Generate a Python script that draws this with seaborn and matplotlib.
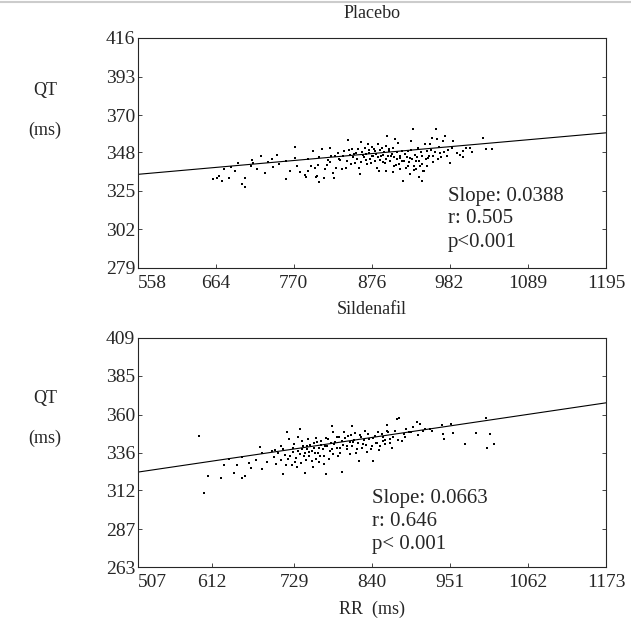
import matplotlib
matplotlib.use("Agg")
import matplotlib.pyplot as plt
from matplotlib.lines import Line2D
import seaborn as sns
import pandas as pd

# Placebo: RR (ms) and QT (ms)
placebo_rr = [660, 665, 682, 703, 703, 694, 713, 714, 726, 731, 747, 760, 772, 772, 779, 785, 787,
              794, 796, 799, 801, 803, 808, 811, 815, 817, 819, 821, 824, 825, 828, 830, 833, 836,
              838, 841, 844, 846, 849, 851, 853, 855, 859, 862, 864, 867, 868, 871, 873, 875, 877,
              878, 880, 883, 885, 886, 888, 890, 892, 894, 896, 897, 900, 903, 905, 908, 909, 912,
              914, 917, 919, 920, 923, 926, 928, 930, 932, 933, 935, 937, 939, 942, 944, 946, 948,
              951, 953, 955, 958, 960, 964, 965, 969, 973, 976, 978, 982, 985, 987, 992, 996, 1001,
              1005, 1010, 1028, 1032,
              832, 837, 842, 845, 848, 852, 856, 858, 861, 863, 866, 869, 870, 872, 874, 876, 879,
              881, 882, 884, 887, 889, 891, 893, 895, 898, 899, 901, 904, 906, 907, 910, 911, 913,
              915, 918, 921, 924, 925, 927, 929, 931, 934, 936, 938, 940, 943, 945, 947, 950, 952,
              954, 957, 959, 962, 966, 968, 971, 975, 980, 760, 775, 790, 805, 812, 820, 826, 740,
              750, 720, 735, 690, 675, 668, 672, 684, 700, 712, 742, 765, 790, 800, 805, 860, 895,
              905, 915, 928, 940, 945, 1001, 1013, 1040]
placebo_qt = [332.0, 332.4, 332.8, 332.4, 327.4, 341.5, 343.5, 341.5, 345.5, 335.4, 346.6, 331.8,
              351.0, 344.5, 336.1, 334.4, 333.4, 339.5, 348.6, 338.5, 334.0, 340.5, 349.6, 332.4,
              340.5, 343.5, 350.6, 345.5, 335.4, 332.4, 338.5, 347.6, 343.5, 338.1, 348.6, 338.5,
              355.0, 346.6, 349.6, 345.0, 341.5, 347.6, 338.5, 354.0, 346.6, 350.6, 343.5, 352.6,
              347.6, 341.5, 351.0, 345.5, 348.6, 338.5, 352.6, 336.5, 343.5, 350.6, 346.6, 341.5,
              351.6, 357.7, 348.6, 345.5, 350.6, 355.6, 340.5, 353.6, 344.5, 348.6, 330.8, 342.5,
              338.5, 348.6, 344.5, 354.6, 361.7, 337.5, 346.6, 342.5, 350.6, 339.5, 345.5, 336.5,
              352.6, 348.6, 344.5, 352.6, 356.7, 345.5, 361.7, 355.6, 347.6, 354.6, 357.7, 345.5,
              341.5, 350.6, 354.6, 347.6, 346.6, 348.6, 350.6, 350.6, 356.7, 349.6,
              344, 346, 343, 349, 341, 347, 344, 350, 342, 348, 345, 347, 341, 349, 344, 346, 350,
              343, 347, 345, 349, 346, 342, 348, 344, 346, 350, 343, 347, 345, 340, 348, 344, 341,
              346, 343, 347, 345, 340, 342, 349, 344, 340, 338, 345, 343, 348, 341, 337, 344, 340,
              346, 349, 342, 348, 344, 351, 345, 348, 349, 343, 340, 344, 345, 338, 342, 346, 344,
              341, 338, 342, 337, 338, 334, 331, 339, 329, 340, 339, 337, 337, 333, 330, 335, 337,
              336, 338, 335, 333, 331, 345, 348, 350]

# Sildenafil: RR (ms) and QT (ms)
sildenafil_rr = [594, 601, 606, 636, 643, 648, 659, 665, 681, 683, 683, 697, 702, 704, 711, 714,
                 716, 719, 720, 722, 726, 727, 729, 732, 733, 735, 738, 740, 741, 743, 745, 747,
                 749, 751, 754, 757, 759, 761, 764, 766, 768, 771, 773, 775, 778, 780, 783, 784,
                 786, 790, 791, 794, 797, 798, 800, 804, 806, 809, 811, 813, 816, 818, 822, 824,
                 827, 830, 833, 836, 840, 842, 844, 847, 850, 854, 856, 859, 862, 863, 866, 868,
                 873, 875, 879, 882, 887, 889, 893, 899, 904, 908, 913, 922, 939, 941, 943, 953,
                 955, 972, 988, 1002, 1004, 1008, 1013,
                 700, 706, 710, 713, 717, 724, 728, 730, 734, 737, 739, 742, 744, 746, 748, 750,
                 752, 755, 756, 758, 760, 762, 763, 765, 767, 770, 772, 774, 776, 779, 781, 783,
                 785, 788, 790, 793, 795, 799, 802, 805, 808, 810, 812, 815, 817, 820, 823, 826,
                 829, 832, 835, 838, 841, 845, 848, 852, 855, 858, 861, 865, 870, 877, 885, 895,
                 905, 915, 925, 690, 675, 668, 655, 630, 625, 655]
sildenafil_qt = [346.6, 310.2, 321.3, 331.6, 323.1, 327.8, 321.3, 329.1, 339.8, 335.9, 325.6,
                 337.0, 337.6, 328.4, 340.2, 322.0, 334.2, 349.2, 331.6, 344.5, 327.8, 336.3,
                 341.3, 332.7, 326.9, 345.6, 351.3, 338.1, 343.4, 333.8, 323.0, 340.2, 344.9,
                 336.3, 330.5, 342.3, 335.9, 345.5, 339.1, 333.8, 343.4, 328.4, 340.2, 322.6,
                 344.5, 337.0, 353.1, 348.8, 341.3, 345.6, 333.8, 339.1, 323.5, 343.4, 349.2,
                 340.2, 346.6, 334.8, 352.6, 342.8, 348.3, 338.5, 330.5, 345.6, 341.3, 349.8,
                 336.3, 344.5, 340.2, 330.5, 346.6, 342.3, 337.6, 347.7, 343.4, 341.3, 353.5,
                 348.8, 344.5, 339.1, 349.8, 357.3, 357.8, 343.4, 345.6, 350.9, 348.8, 352.0,
                 355.2, 354.1, 349.8, 351.3, 353.5, 347.7, 344.9, 354.1, 348.3, 341.3, 348.3,
                 357.8, 339.1, 347.7, 341.3,
                 333, 336, 331, 338, 328, 334, 339, 330, 337, 335, 329, 340, 336, 331, 338, 334,
                 341, 337, 327, 339, 332, 343, 336, 330, 341, 338, 334, 345, 340, 332, 342, 338,
                 335, 343, 339, 346, 336, 341, 345, 338, 343, 347, 340, 344, 336, 342, 347, 339,
                 344, 341, 348, 338, 345, 342, 349, 340, 346, 344, 350, 342, 346, 344, 348, 349,
                 347, 351, 350, 330, 331, 326, 333, 328, 320, 320]

panel_titles = ["Placebo", "Sildenafil"]
stat_lines = [["Slope: 0.0388", "r: 0.505", "p<0.001"],
              ["Slope: 0.0663", "r: 0.646", "p< 0.001"]]
slopes = [0.0388, 0.0663]
intercepts = [313.15, 289.9]
x_ticks = [[558, 664, 770, 876, 982, 1089, 1195],
           [507, 612, 729, 840, 951, 1062, 1173]]
y_ticks = [[279, 302, 325, 348, 370, 393, 416],
           [263, 287, 312, 336, 360, 385, 409]]

sns.set_style("ticks")
plt.rcParams["font.family"] = ["Liberation Serif", "DejaVu Serif"]
plt.rcParams["axes.linewidth"] = 0.8

fig = plt.figure(figsize=(6.31, 6.37), dpi=100)
W, H = 631, 637
boxes = [(138, 38, 606, 268), (138, 338, 606, 567)]
stat_pos = [(448, 196), (372, 498)]
title_y = [13, 309]
qt_pos = [90, 398]

frames = [pd.DataFrame({"RR": placebo_rr, "QT": placebo_qt}),
          pd.DataFrame({"RR": sildenafil_rr, "QT": sildenafil_qt})]

for i, df in enumerate(frames):
    l, t, r, b = boxes[i]
    ax = fig.add_axes([l / W, 1 - b / H, (r - l) / W, (b - t) / H])
    sns.scatterplot(data=df, x="RR", y="QT", ax=ax, marker="s", s=4,
                    color="black", linewidth=0)
    xs = [x_ticks[i][0], x_ticks[i][-1]]
    line = pd.DataFrame({"RR": xs, "QT": [intercepts[i] + slopes[i] * x for x in xs]})
    sns.lineplot(data=line, x="RR", y="QT", ax=ax, color="black", linewidth=0.8)
    ax.set_xlim(xs)
    ax.set_ylim(y_ticks[i][0], y_ticks[i][-1])
    ax.set_xticks(x_ticks[i])
    ax.set_yticks(y_ticks[i])
    ax.set_xticklabels([str(v) for v in x_ticks[i]], fontsize=14)
    ax.set_yticklabels([str(v) for v in y_ticks[i]], fontsize=14)
    ax.get_xticklabels()[0].set_horizontalalignment("left")
    ax.tick_params(direction="in", length=3, width=0.6, right=True, top=False,
                   labelright=False)
    ax.tick_params(axis="x", pad=5)
    ax.tick_params(axis="y", pad=2)
    ax.set_xlabel("")
    ax.set_ylabel("")
    for sp in ax.spines.values():
        sp.set_linewidth(0.8)
    fig.text(372 / W, 1 - title_y[i] / H, panel_titles[i], ha="center", va="center", fontsize=13)
    sx, sy = stat_pos[i]
    for k, s in enumerate(stat_lines[i]):
        fig.text(sx / W, 1 - (sy + 23 * k) / H, s, ha="left", va="center", fontsize=15)
    fig.text(45 / W, 1 - qt_pos[i] / H, "QT", ha="center", va="center", fontsize=13)
    fig.text(45 / W, 1 - (qt_pos[i] + 40) / H, "(ms)", ha="center", va="center", fontsize=13)

fig.text(372 / W, 1 - 609 / H, "RR  (ms)", ha="center", va="center", fontsize=13)
fig.add_artist(Line2D([0, 1], [1 - 1.5 / H, 1 - 1.5 / H], color="#cccccc", linewidth=1.5))

fig.savefig("out.png", dpi=100)
